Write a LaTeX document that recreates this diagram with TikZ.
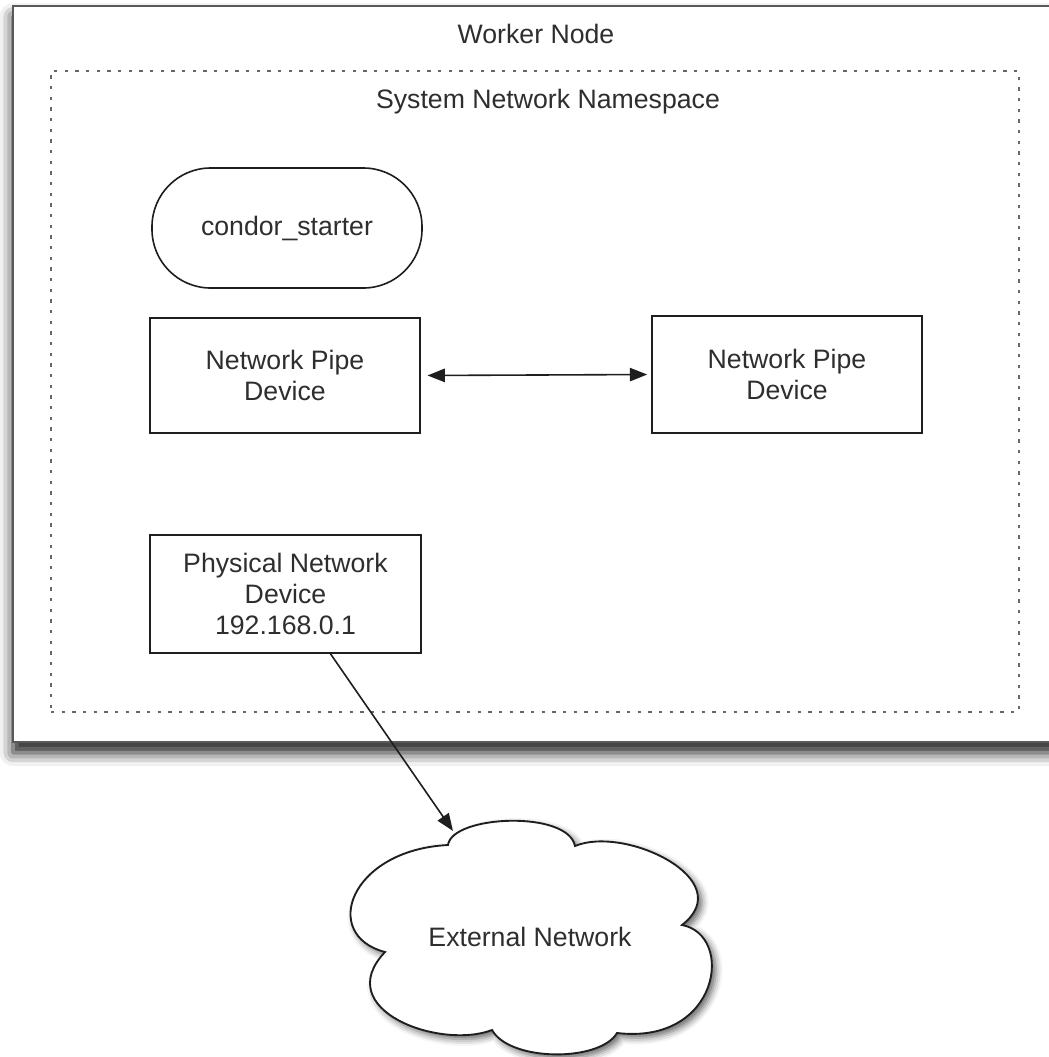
\documentclass[tikz,border=0pt]{standalone}
\usepackage{fontspec}
\setmainfont{Liberation Sans}
\usetikzlibrary{arrows.meta,shadows.blur,calc}
\definecolor{inktext}{HTML}{2E2E2E}
\definecolor{inkline}{HTML}{1E1E1E}
\tikzset{
  x=0.75pt, y=-0.75pt,
  lbl/.style={font=\fontsize{20}{23.5}\selectfont, text=inktext, align=center, inner sep=0pt},
  device/.style={lbl, draw=inkline, line width=1.2pt, fill=white,
                 minimum width=202.5pt, minimum height=87pt},
  process/.style={device, rounded corners=44pt, minimum height=90pt},
  container/.style={draw=black!65, line width=2pt, fill=white, inner sep=0pt,
                    blur shadow={shadow xshift=0pt, shadow yshift=-8pt,
                                 shadow blur radius=10pt, shadow opacity=90}},
  namespace/.style={draw=black!60, line width=1.6pt, dash pattern=on 2.6pt off 5.4pt,
                    inner sep=0pt},
  tip/.tip={Triangle[length=13pt,width=10pt]},
  link/.style={draw=inkline, line width=1.2pt, -tip},
}
\begin{document}
\begin{tikzpicture}
\useasboundingbox (0,0) rectangle (1049,1057);
\clip (0,0) rectangle (1049,1057);

% worker node container (runs off the right edge)
\node[container, minimum width=789pt, minimum height=552pt] (worker) at (539,374) {};
\node[lbl] (workertitle) at (536,34) {Worker Node};

% system network namespace
\node[namespace, minimum width=726pt, minimum height=480.75pt] (ns) at (535,391.5) {};
\node[lbl] (nstitle) at (548,102) {System Network Namespace};

% processes and devices
\node[process] (starter) at (287,228) {condor\_starter};
\node[device, minimum height=86.25pt] (pipeL) at (285,375.5) {Network Pipe\\Device};
\node[device, minimum height=87.75pt] (pipeR) at (787,374.5) {Network Pipe\\Device};
\node[device, minimum width=203.25pt, minimum height=88.5pt] (phys) at (285.5,594)
  {Physical Network\\Device\\192.168.0.1};

\draw[link, tip-tip, shorten <=5pt, shorten >=3pt] (pipeL.east) -- (pipeR.west);

% external network cloud
\coordinate (c1) at (448,845);
\coordinate (c2) at (575,846);
\coordinate (c3) at (682,925);
\coordinate (c4) at (617,1033);
\coordinate (c5) at (492,1030);
\coordinate (c6) at (385,952);
\path[draw=inkline, line width=1.4pt, fill=white,
      blur shadow={shadow xshift=3pt, shadow yshift=-3pt, shadow blur radius=5pt, shadow opacity=60}]
  (c1) .. controls (452,815) and (568,810) .. (c2)
       .. controls (625,825) and (740,880) .. (c3)
       .. controls (735,935) and (720,1045) .. (c4)
       .. controls (600,1062) and (510,1062) .. (c5)
       .. controls (440,1050) and (330,1010) .. (c6)
       .. controls (320,935) and (350,850) .. (c1) -- cycle;
\node[lbl] (net) at (530,937) {External Network};
\coordinate (nettip) at (453,831);

\draw[link] ($(phys.south)!0.33!(phys.south east)$) -- (nettip);
\end{tikzpicture}
\end{document}
